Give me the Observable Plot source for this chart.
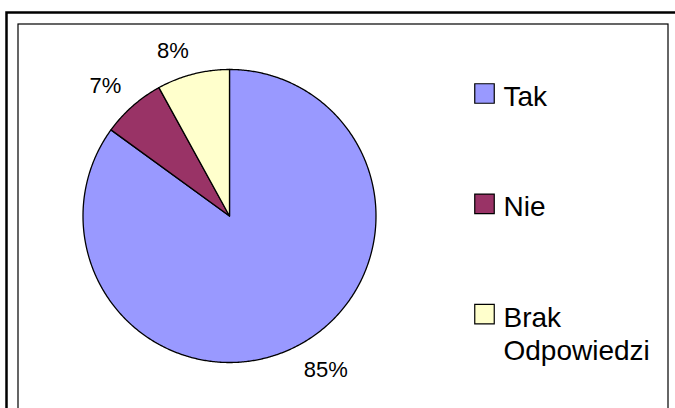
<!DOCTYPE html>
<html>
<head>
<meta charset="utf-8">
<script src="https://cdn.jsdelivr.net/npm/d3@7"></script>
<script src="https://cdn.jsdelivr.net/npm/@observablehq/plot@0.6"></script>
<style>
  html, body { margin: 0; padding: 0; background: #fff; }
  svg { display: block; }
</style>
</head>
<body>
<div id="chart"></div>
<script>
// ---- data ----
const categories = ["Tak", "Nie", "Brak Odpowiedzi"];
const values = [85, 7, 8];
const legendLabels = ["Tak", "Nie", "Brak\nOdpowiedzi"];
const colors = ["#9999FF", "#993366", "#FFFFCC"];

// ---- layout (pixels) ----
const W = 675, H = 408;
const cx = 229, cy = 215.5, R = 146.5;
const labelGap = 17;
const font = "Liberation Sans, Arial, Helvetica, sans-serif";

const total = d3.sum(values);
let acc = 0;
const slices = categories.map((c, i) => {
  const a0 = acc / total * 2 * Math.PI;
  acc += values[i];
  const a1 = acc / total * 2 * Math.PI;
  return {category: c, value: values[i], a0, a1, pct: Math.round(values[i] / total * 100) + "%"};
});

// polygon points of each slice (computed from the data)
const pts = [];
for (const s of slices) {
  pts.push({category: s.category, x: cx, y: cy});
  const n = Math.max(2, Math.ceil((s.a1 - s.a0) / (Math.PI / 360)));
  for (let k = 0; k <= n; k++) {
    const t = s.a0 + (s.a1 - s.a0) * k / n;
    pts.push({category: s.category, x: cx + R * Math.sin(t), y: cy - R * Math.cos(t)});
  }
}

// label anchor points
const labels = slices.map(s => {
  const am = (s.a0 + s.a1) / 2;
  return {
    text: s.pct,
    x: cx + (R + labelGap) * Math.sin(am),
    y: cy - (R + labelGap) * Math.cos(am),
    right: Math.sin(am) >= 0,
    upper: Math.cos(am) >= 0
  };
});

const legend = categories.map((c, i) => ({category: c, label: legendLabels[i], x: 484, y: 93 + i * 110.3}));

const labelMark = (right, upper) => Plot.text(labels.filter(d => d.right === right && d.upper === upper), {
  x: "x", y: "y", text: "text",
  textAnchor: right ? "start" : "end",
  lineAnchor: upper ? "bottom" : "top",
  fontSize: 22, fontFamily: font, fill: "#000"
});

const chart = Plot.plot({
  width: W, height: H,
  margin: 0,
  x: {type: "identity", axis: null},
  y: {type: "identity", axis: null},
  color: {type: "ordinal", domain: categories, range: colors},
  style: {fontFamily: font, background: "#fff"},
  marks: [
    Plot.frame({stroke: "#000", strokeWidth: 2.5, insetLeft: 6, insetTop: 12, insetRight: -5, insetBottom: -5}),
    Plot.frame({stroke: "#000", strokeWidth: 1.2, insetLeft: 17.5, insetTop: 23.5, insetRight: 7.5, insetBottom: -5}),
    Plot.line(pts, {x: "x", y: "y", z: "category", fill: "category", stroke: "#000", strokeWidth: 1.3, curve: "linear-closed", strokeLinejoin: "round"}),
    labelMark(true, true), labelMark(true, false), labelMark(false, true), labelMark(false, false),
    Plot.dot(legend, {x: "x", y: "y", symbol: "square", r: 11, fill: "category", stroke: "#000", strokeWidth: 1.2}),
    Plot.text(legend, {x: d => d.x + 19, y: d => d.y - 11, text: "label", textAnchor: "start", lineAnchor: "top", fontSize: 28, lineHeight: 1.18, fontFamily: font, fill: "#000"})
  ]
});
document.getElementById("chart").appendChild(chart);
</script>
</body>
</html>
